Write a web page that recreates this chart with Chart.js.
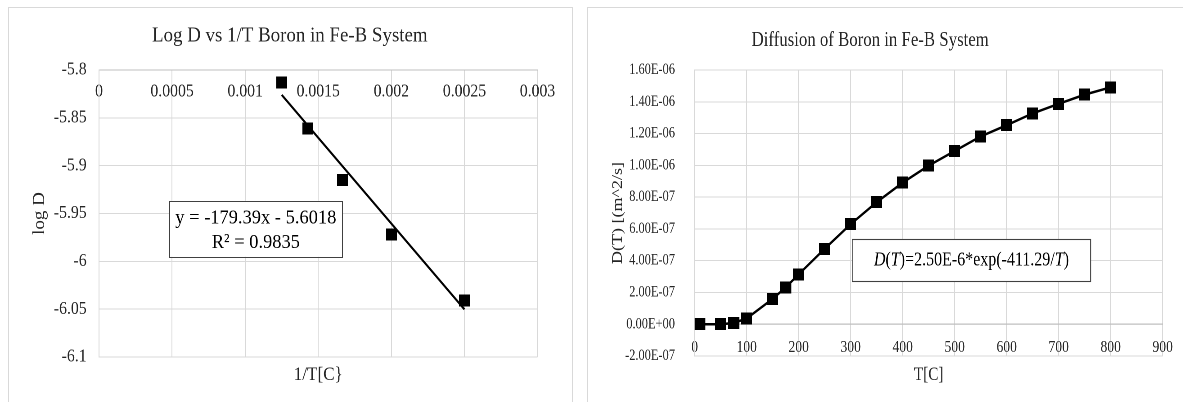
<!DOCTYPE html>
<html>
<head>
<meta charset="utf-8">
<script src="https://cdn.jsdelivr.net/npm/chart.js@4.4.1/dist/chart.umd.min.js"></script>
<style>
  html, body { margin: 0; padding: 0; background: #fff; width: 1183px; height: 402px; overflow: hidden; position: relative; }
  .panel { position: absolute; border: 1px solid #d9d9d9; box-sizing: border-box; }
  .wrap { position: absolute; top: 0; height: 402px; transform-origin: 0 0; }
  canvas { display: block; }
</style>
</head>
<body>
<div class="panel" style="left:8px; top:7px; width:565px; height:420px;"></div>
<div class="panel" style="left:587px; top:7px; width:640px; height:420px;"></div>
<div class="wrap" id="wl"><canvas id="cl"></canvas></div>
<div class="wrap" id="wr"><canvas id="cr"></canvas></div>
<script>
// ---- Arrhenius plot: log D against 1/T ----
const invT = [0.00125, 0.001429, 0.001667, 0.002, 0.0025];
const logD = [-5.813, -5.861, -5.915, -5.972, -6.041];
const fitSlope = -179.39;
const fitIntercept = -5.6018;
const fitR2 = 0.9835;
const invTTicks = [0, 0.0005, 0.001, 0.0015, 0.002, 0.0025, 0.003];
const invTTickLabels = ['0', '0.0005', '0.001', '0.0015', '0.002', '0.0025', '0.003'];
const logDTicks = [-6.1, -6.05, -6, -5.95, -5.9, -5.85, -5.8];
const logDTickLabels = ['-6.1', '-6.05', '-6', '-5.95', '-5.9', '-5.85', '-5.8'];

// ---- Diffusion coefficient against temperature ----
const tempC = [10, 50, 75, 100, 150, 175, 200, 250, 300, 350, 400, 450, 500, 550, 600, 650, 700, 750, 800];
const diffD = [0, 0, 8e-9, 3.6e-8, 1.60e-7, 2.32e-7, 3.14e-7, 4.75e-7, 6.30e-7, 7.68e-7, 8.91e-7,
               9.98e-7, 1.090e-6, 1.182e-6, 1.253e-6, 1.327e-6, 1.387e-6, 1.445e-6, 1.491e-6];
const tempTicks = [0, 100, 200, 300, 400, 500, 600, 700, 800, 900];
const tempTickLabels = ['0', '100', '200', '300', '400', '500', '600', '700', '800', '900'];
const dTicks = [-2e-7, 0, 2e-7, 4e-7, 6e-7, 8e-7, 1e-6, 1.2e-6, 1.4e-6, 1.6e-6];
const dTickLabels = ['-2.00E-07', '0.00E+00', '2.00E-07', '4.00E-07', '6.00E-07', '8.00E-07',
                     '1.00E-06', '1.20E-06', '1.40E-06', '1.60E-06'];
const fitPrefactor = '2.50E-6';
const fitActivation = '411.29';

// ---- shared styling ----
const FONT = "'Liberation Serif', 'Times New Roman', serif";
const INK = '#262626';
const GRID = '#d9d9d9';
const AXIS = '#bfbfbf';
const SL = 0.9;   // horizontal squeeze of the left chart
const SR = 0.8;   // horizontal squeeze of the right chart

function marker(w, h) {
  const c = document.createElement('canvas');
  c.width = w; c.height = h;
  const g = c.getContext('2d');
  g.fillStyle = '#000';
  g.fillRect(0, 0, w, h);
  return c;
}

function setupCanvas(wrapId, canvasId, screenLeft, screenWidth, squeeze) {
  const w = Math.round(screenWidth / squeeze);
  const wrap = document.getElementById(wrapId);
  wrap.style.left = screenLeft + 'px';
  wrap.style.width = w + 'px';
  wrap.style.transform = `scaleX(${squeeze})`;
  const c = document.getElementById(canvasId);
  c.width = w; c.height = 402;
  return { canvas: c, width: w };
}

function fixedTickScale(values, labels) {
  return {
    afterBuildTicks(scale) { scale.ticks = values.map(v => ({ value: v })); },
    callback: (v, i) => labels[i]
  };
}

// ================= left chart =================
(function () {
  const S = SL;
  const left = 0;
  const { canvas, width } = setupCanvas('wl', 'cl', left, 580, S);
  const plotL = (99 - left) / S;
  const plotR = (537.5 - left) / S;
  const xt = fixedTickScale(invTTicks, invTTickLabels);
  const yt = fixedTickScale(logDTicks, logDTickLabels);
  const fitX = [Math.min(...invT), Math.max(...invT)];

  const fitLabel = {
    id: 'fitLabel',
    afterDatasetsDraw(chart) {
      const { ctx, scales: { x, y } } = chart;
      const l = x.getPixelForValue(0.000482), r = x.getPixelForValue(0.001664);
      const t = y.getPixelForValue(-5.9367), b = y.getPixelForValue(-5.9952);
      ctx.save();
      ctx.fillStyle = '#fff';
      ctx.fillRect(l, t, r - l, b - t);
      ctx.strokeStyle = '#404040';
      ctx.lineWidth = 1;
      ctx.strokeRect(Math.round(l) + 0.5, Math.round(t) + 0.5, Math.round(r - l), Math.round(b - t));
      ctx.fillStyle = '#000';
      ctx.font = `20.5px ${FONT}`;
      ctx.textAlign = 'center';
      ctx.textBaseline = 'middle';
      const cx = (l + r) / 2;
      ctx.fillText(`y = ${fitSlope}x - ${Math.abs(fitIntercept)}`, cx, t + (b - t) * 0.31);
      ctx.fillText(`R\u00B2 = ${fitR2}`, cx, t + (b - t) * 0.75);
      ctx.restore();
    }
  };

  new Chart(canvas, {
    type: 'scatter',
    data: {
      datasets: [
        {
          label: 'log D',
          data: invT.map((x, i) => ({ x, y: logD[i] })),
          xAxisID: 'x', yAxisID: 'y',
          pointStyle: marker(12, 12),
          pointRadius: 6,
          showLine: false,
          order: 0
        },
        {
          label: 'Linear fit',
          type: 'line',
          data: fitX.map(x => ({ x, y: fitSlope * x + fitIntercept })),
          xAxisID: 'x', yAxisID: 'y',
          borderColor: '#000',
          borderWidth: 2.2,
          pointRadius: 0,
          fill: false,
          order: 1
        }
      ]
    },
    options: {
      responsive: false,
      animation: false,
      devicePixelRatio: 2,
      layout: { padding: 0 },
      plugins: {
        legend: { display: false },
        tooltip: { enabled: false },
        title: {
          display: true,
          text: 'Log D vs 1/T Boron in Fe-B System',
          color: INK,
          font: { family: FONT, size: 21, weight: 'normal' },
          padding: { top: 23.4, bottom: 21.4 }
        }
      },
      scales: {
        x: {
          type: 'linear', min: 0, max: 0.003,
          position: { y: -5.8 },
          afterBuildTicks: xt.afterBuildTicks,
          grid: { color: GRID, lineWidth: 1, drawTicks: false },
          border: { display: true, color: AXIS, width: 1 },
          ticks: { callback: xt.callback, autoSkip: false, maxRotation: 0, padding: 11.5, color: INK,
                   font: { family: FONT, size: 17.5 } }
        },
        y: {
          type: 'linear', min: -6.1, max: -5.8,
          position: 'left',
          afterBuildTicks: yt.afterBuildTicks,
          afterFit(s) { s.width = plotL; },
          grid: { color: GRID, lineWidth: 1, drawTicks: false },
          border: { display: true, color: GRID, width: 1 },
          ticks: { callback: yt.callback, autoSkip: false, padding: 12.4 / S, color: INK,
                   font: { family: FONT, size: 17.5 } },
          title: { display: true, text: 'log D', color: INK, font: { family: FONT, size: 19 },
                   padding: { top: 39.5 / S - 11.4, bottom: 0 } }
        },
        xt: {
          type: 'linear', min: 0, max: 1, position: 'bottom',
          afterFit(s) { s.height = 402 - 357; },
          grid: { display: false, drawTicks: false },
          border: { display: false },
          ticks: { display: false },
          title: { display: true, text: '1/T[C}', color: INK, font: { family: FONT, size: 19 },
                   padding: { top: 0, bottom: 402 - 375 - 11.4 } }
        },
        yr: {
          type: 'linear', min: 0, max: 1, position: 'right',
          afterFit(s) { s.width = width - plotR; },
          grid: { display: false, drawTicks: false },
          border: { display: false },
          ticks: { display: false }
        }
      }
    },
    plugins: [fitLabel]
  });
})();

// ================= right chart =================
(function () {
  const S = SR;
  const left = 557;
  const { canvas, width } = setupCanvas('wr', 'cr', left, 626, S);
  const plotL = (694.7 - left) / S;
  const plotR = (1162.7 - left) / S;
  const xt = fixedTickScale(tempTicks, tempTickLabels);
  const yt = fixedTickScale(dTicks, dTickLabels);

  const formulaLabel = {
    id: 'formulaLabel',
    afterDatasetsDraw(chart) {
      const { ctx, scales: { x, y } } = chart;
      const l = x.getPixelForValue(303), r = x.getPixelForValue(761.5);
      const t = y.getPixelForValue(5.35e-7), b = y.getPixelForValue(2.69e-7);
      ctx.save();
      ctx.fillStyle = '#fff';
      ctx.fillRect(l, t, r - l, b - t);
      ctx.strokeStyle = '#404040';
      ctx.lineWidth = 1.1;
      ctx.strokeRect(l, Math.round(t) + 0.5, r - l, Math.round(b - t));
      const parts = [
        ['D', true], ['(', false], ['T', true],
        [`)=${fitPrefactor}*exp(-${fitActivation}/`, false], ['T', true], [')', false]
      ];
      const size = 20;
      const fontOf = it => `${it ? 'italic ' : ''}${size}px ${FONT}`;
      let total = 0;
      parts.forEach(([s, it]) => { ctx.font = fontOf(it); total += ctx.measureText(s).width; });
      let px = (l + r) / 2 - total / 2;
      const py = (t + b) / 2;
      ctx.fillStyle = '#000';
      ctx.textBaseline = 'middle';
      ctx.textAlign = 'left';
      parts.forEach(([s, it]) => {
        ctx.font = fontOf(it);
        ctx.fillText(s, px, py);
        px += ctx.measureText(s).width;
      });
      ctx.restore();
    }
  };

  new Chart(canvas, {
    type: 'scatter',
    data: {
      datasets: [{
        label: 'D(T)',
        data: tempC.map((x, i) => ({ x, y: diffD[i] })),
        xAxisID: 'x', yAxisID: 'y',
        showLine: true,
        tension: 0,
        borderColor: '#000',
        borderWidth: 2.5,
        pointStyle: marker(14, 12),
        pointRadius: 7
      }]
    },
    options: {
      responsive: false,
      animation: false,
      devicePixelRatio: 2,
      layout: { padding: 0 },
      plugins: {
        legend: { display: false },
        tooltip: { enabled: false },
        title: {
          display: true,
          text: 'Diffusion of Boron in Fe-B System',
          color: INK,
          font: { family: FONT, size: 21, weight: 'normal' },
          padding: { top: 27.9, bottom: 16.9 }
        }
      },
      scales: {
        x: {
          type: 'linear', min: 0, max: 900,
          position: { y: 0 },
          afterBuildTicks: xt.afterBuildTicks,
          grid: { color: GRID, lineWidth: 1, drawTicks: false },
          border: { display: true, color: AXIS, width: 1.2 },
          ticks: { callback: xt.callback, autoSkip: false, maxRotation: 0, padding: 13, color: INK,
                   font: { family: FONT, size: 17 } }
        },
        y: {
          type: 'linear', min: -2e-7, max: 1.6e-6,
          position: 'left',
          afterBuildTicks: yt.afterBuildTicks,
          afterFit(s) { s.width = plotL; },
          grid: { color: GRID, lineWidth: 1, drawTicks: false },
          border: { display: true, color: GRID, width: 1 },
          ticks: { callback: yt.callback, autoSkip: false, padding: 19.7 / S, color: INK,
                   font: { family: FONT, size: 15.5 } },
          title: { display: true, text: 'D(T) [(m^2/s]', color: INK, font: { family: FONT, size: 18 },
                   padding: { top: (618 - left) / S - 10.8, bottom: 0 } }
        },
        xt: {
          type: 'linear', min: 0, max: 1, position: 'bottom',
          afterFit(s) { s.height = 402 - 356; },
          grid: { display: false, drawTicks: false },
          border: { display: false },
          ticks: { display: false },
          title: { display: true, text: 'T[C]', color: INK, font: { family: FONT, size: 19 },
                   padding: { top: 0, bottom: 402 - 375 - 11.4 } }
        },
        yr: {
          type: 'linear', min: 0, max: 1, position: 'right',
          afterFit(s) { s.width = width - plotR; },
          grid: { display: false, drawTicks: false },
          border: { display: false },
          ticks: { display: false }
        }
      }
    },
    plugins: [formulaLabel]
  });
})();
</script>
</body>
</html>
